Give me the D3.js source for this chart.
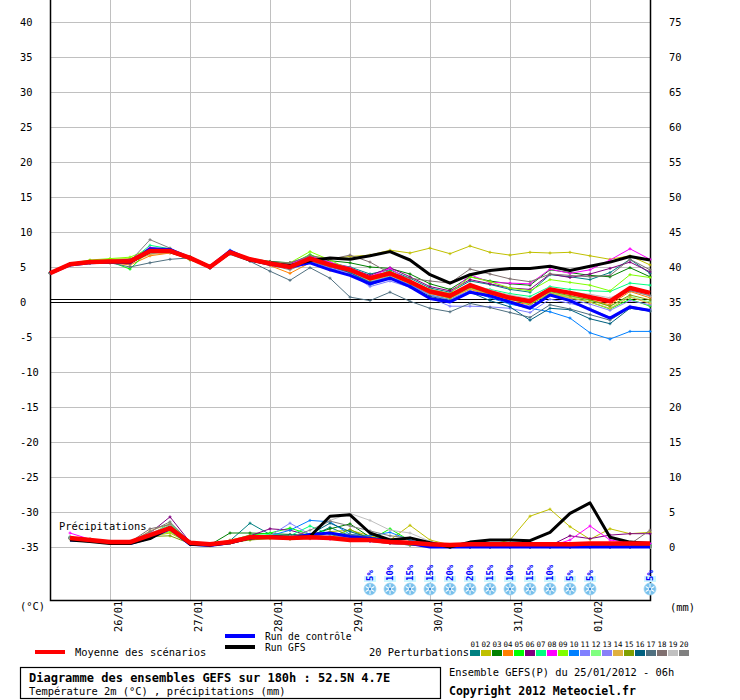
<!DOCTYPE html>
<html>
<head>
<meta charset="utf-8">
<script src="https://cdn.jsdelivr.net/npm/d3@7"></script>
<style>
body{margin:0;background:#fff;}
svg{display:block;}
text{font-family:"DejaVu Sans Mono",monospace;fill:#000;}
</style>
</head>
<body>
<svg id="chart" width="740" height="700"></svg>
<script>
// time steps (hours after 25/01/2012 06h)
var hoursT = [0,6,12,18,24,30,36,42,48,54,60,66,72,78,84,90,96,102,108,114,120,126,132,138,144,150,156,162,168,174,180];
var hoursP = [6,12,18,24,30,36,42,48,54,60,66,72,78,84,90,96,102,108,114,120,126,132,138,144,150,156,162,168,174,180];

var dayHours = [18,42,66,90,114,138,162];
var dayLabels = ["26/01","27/01","28/01","29/01","30/01","31/01","01/02"];
var leftTicks = [-35,-30,-25,-20,-15,-10,-5,0,5,10,15,20,25,30,35,40];
var rightTicks = [0,5,10,15,20,25,30,35,40,45,50,55,60,65,70,75];

var memberColors = ["#008080","#c0c000","#008000","#ff8000","#00ff00","#800080","#00ff80","#ff00ff","#80ff00","#0080ff",
                    "#8080ff","#80ff80","#8880f8","#e0b040","#80a000","#006080","#507080","#807070","#c0c0c0","#808080"];
var memberNames = ["01","02","03","04","05","06","07","08","09","10","11","12","13","14","15","16","17","18","19","20"];

// temperature 2m (°C)
var tempMean = [4.1,5.4,5.7,5.8,5.8,7.3,7.3,6.3,5.0,7.1,6.1,5.5,5.0,6.2,5.3,4.6,3.4,4.1,2.9,1.5,0.9,2.4,1.4,0.6,0.1,1.8,1.3,0.7,0.1,2.0,1.3];
var tempCtrl = [4.1,5.3,5.6,5.7,5.6,7.6,7.5,6.3,5.0,7.3,6.0,5.4,5.0,5.6,4.6,3.8,2.6,3.4,2.2,0.5,0.0,1.4,0.9,0.0,-0.9,1.0,0.2,-1.1,-2.3,-0.7,-1.2];
var tempGfs  = [4.1,5.4,5.7,5.8,5.7,7.2,7.2,6.3,5.0,7.1,6.0,5.5,5.2,5.9,6.3,6.1,6.6,7.2,6.0,3.9,2.7,3.9,4.5,4.8,4.8,5.1,4.5,5.1,5.7,6.5,6.0];
var tempMembers = [
  [4.1,5.3,5.8,6.0,5.9,7.0,7.2,6.4,5.1,7.0,6.0,5.6,5.2,6.4,5.6,5.0,4.0,4.6,3.4,2.0,1.4,3.0,2.5,1.8,1.4,3.9,3.6,3.2,4.2,6.1,4.1],
  [4.1,5.4,5.9,6.1,6.2,7.2,7.4,6.2,5.1,7.0,6.1,5.7,5.4,6.6,6.2,6.5,6.7,7.4,7.0,7.7,6.9,8.0,7.1,6.7,7.1,7.0,7.1,6.6,6.1,6.6,5.3],
  [4.1,5.4,5.7,5.9,6.0,7.0,7.2,6.5,5.2,7.1,6.2,5.8,5.6,6.3,5.9,5.6,5.0,4.8,4.0,2.6,1.8,3.6,3.0,2.6,2.4,4.6,4.2,3.8,3.6,4.9,3.6],
  [4.1,5.2,5.5,5.6,5.3,6.6,7.0,6.1,4.9,7.0,5.9,5.2,4.1,5.6,4.5,4.0,2.8,3.6,2.2,1.2,0.6,1.8,1.0,0.1,-0.4,1.3,0.8,0.3,-0.4,1.5,0.6],
  [4.1,5.5,5.8,5.8,4.7,7.5,7.6,6.3,5.1,7.2,6.2,5.6,5.3,6.8,5.6,4.9,3.6,4.4,3.1,1.6,0.8,2.0,1.1,0.4,-0.3,1.2,0.6,0.0,-1.0,0.4,-0.6],
  [4.1,5.3,5.6,5.9,6.1,7.4,7.3,6.2,4.9,7.1,6.1,5.7,5.6,6.5,5.5,4.8,3.8,4.9,3.6,2.2,1.6,3.2,2.6,2.0,1.8,4.0,3.5,4.0,4.8,5.7,4.3],
  [4.1,5.4,5.7,5.7,5.8,8.1,7.6,6.4,5.0,7.0,6.0,5.4,5.2,6.1,5.0,4.3,2.6,3.8,2.4,1.4,0.6,2.2,1.8,1.2,0.8,2.2,1.8,1.6,1.5,2.7,2.4],
  [4.1,5.5,5.7,5.8,6.0,7.8,7.4,6.3,5.0,7.1,6.1,5.6,5.4,6.6,5.7,4.9,3.6,4.8,3.0,1.8,1.2,3.9,2.8,2.7,2.6,4.7,4.1,4.6,6.0,7.6,6.1],
  [4.1,5.5,6.0,6.2,6.4,7.6,7.3,6.2,5.0,7.0,6.1,5.6,5.6,7.2,6.0,4.6,2.8,4.0,3.0,1.8,1.2,3.6,2.9,2.0,1.6,3.2,2.8,2.4,1.6,3.9,3.5],
  [4.1,5.3,5.6,5.7,5.5,7.0,7.1,6.2,5.1,7.4,6.1,5.4,4.9,5.8,5.1,4.3,2.4,3.5,2.5,1.0,0.4,1.6,0.6,-0.3,-0.9,-1.4,-2.3,-4.4,-5.3,-4.2,-4.2],
  [4.1,5.4,5.6,5.7,5.6,7.1,7.2,6.3,5.0,7.2,6.0,5.5,5.0,6.0,5.0,4.1,2.2,3.0,2.1,0.6,-0.6,-0.6,-0.7,-0.9,-1.5,0.4,-0.2,-0.9,-2.2,-0.6,-1.1],
  [4.1,5.4,5.8,5.9,5.9,7.4,7.4,6.2,5.0,7.0,6.1,5.5,5.2,6.4,5.3,4.4,3.0,3.9,2.8,1.2,0.5,2.0,1.2,0.3,-0.2,1.4,0.8,0.2,-0.6,0.8,0.0],
  [4.1,5.3,5.6,5.8,5.7,7.2,7.1,6.3,5.1,7.1,6.0,5.5,4.8,5.9,4.8,4.2,2.9,3.6,2.4,1.0,0.3,1.6,0.8,0.0,-0.6,1.0,0.4,-0.3,-1.2,0.2,-0.4],
  [4.1,5.3,5.5,5.6,5.6,6.8,7.0,6.4,5.0,7.0,6.0,5.6,5.0,6.0,5.2,4.4,3.1,3.8,2.6,1.2,0.5,1.9,1.0,0.4,-0.2,1.2,0.6,0.0,-0.9,0.7,-0.2],
  [4.1,5.4,5.8,5.8,5.8,7.0,7.2,6.0,5.0,7.1,6.1,5.5,5.1,6.3,5.4,4.5,3.2,4.0,2.7,1.3,0.6,2.1,1.3,0.5,0.0,1.5,0.9,0.3,-0.6,1.0,0.3],
  [4.1,5.4,5.7,5.8,5.7,7.2,7.3,6.3,4.9,7.0,6.0,5.4,4.9,6.0,5.1,4.2,2.8,3.4,2.3,0.8,0.2,1.4,0.2,-0.7,-2.6,-0.9,-1.1,-2.4,-3.1,-0.9,-1.3],
  [4.1,5.3,5.6,5.6,5.0,5.6,6.1,6.3,4.8,6.8,5.8,4.4,3.1,4.9,3.4,0.7,0.2,1.4,0.1,-0.9,-1.4,-0.2,-0.8,-1.5,-2.2,-0.4,-1.0,-1.8,-2.6,-0.8,-1.3],
  [4.1,5.4,5.7,5.8,5.9,7.2,7.3,6.3,5.0,7.1,6.1,5.6,5.6,6.6,6.1,6.7,5.7,4.1,3.4,3.0,2.7,4.7,4.0,3.3,2.9,4.0,3.8,3.6,3.8,6.1,4.6],
  [4.1,5.4,5.7,5.8,5.8,7.0,7.2,6.3,5.0,7.1,6.1,5.5,5.1,6.2,5.4,4.6,3.4,4.1,3.0,1.6,1.0,2.6,1.7,1.0,0.5,2.0,1.4,1.1,0.6,1.8,0.8],
  [4.1,5.4,5.7,5.8,5.8,8.9,7.7,6.2,4.8,7.0,6.0,5.3,4.6,5.8,5.0,4.4,3.3,3.9,3.0,1.5,0.8,2.4,1.5,0.8,0.3,1.8,1.3,0.8,0.2,1.6,0.9]
];

// precipitation (mm / 6h)
var precMean = [1.3,1.0,0.7,0.7,1.7,2.7,0.6,0.4,0.7,1.4,1.4,1.3,1.4,1.3,1.0,1.0,0.7,0.6,0.4,0.3,0.4,0.4,0.4,0.4,0.4,0.4,0.5,0.5,0.5,0.5];
var precCtrl = [1.0,0.9,0.6,0.5,1.3,2.6,0.4,0.2,0.6,1.3,1.5,1.3,1.8,2.0,1.5,1.2,0.9,0.5,0,0,0,0,0,0,0,0,0,0,0,0];
var precGfs  = [1.0,0.8,0.5,0.5,1.2,2.8,0.4,0.3,0.6,1.3,1.5,1.3,1.5,4.4,4.6,2.0,1.0,1.3,0.6,0,0.7,1.0,1.0,0.9,2.1,4.8,6.3,1.4,0.7,0.5];
var precMembers = [
  [1.3,1.0,0.6,0.6,1.8,3.1,0.8,0.3,0.9,3.4,1.8,1.6,1.5,2.8,1.6,0.8,0.5,0.3,0.1,0,0,0,0,0,0,0,0.1,0.2,0.3,0.4],
  [1.2,0.9,0.7,0.6,1.5,2.0,0.5,0.2,0.6,1.1,1.3,1.2,1.4,2.2,2.4,1.6,1.0,3.1,1.0,0.3,0.3,0.3,1.0,4.4,5.4,2.9,1.1,2.6,1.9,2.1],
  [1.4,1.1,0.7,0.7,1.9,3.0,0.6,0.3,2.0,2.0,1.9,1.8,1.7,2.6,3.3,1.4,1.0,0.6,0.3,0.1,0,0,0,0.1,0.3,0.3,0.2,0.1,0.2,0.2],
  [1.2,0.9,0.6,0.7,1.6,2.4,0.5,0.3,0.8,1.3,1.5,1.6,1.4,1.2,0.9,0.8,0.5,0.4,0.1,0,0,0,0,0,0,0,0,0,0,0],
  [1.3,1.0,0.7,0.7,1.8,2.9,0.6,0.4,0.9,1.7,2.0,2.7,1.8,1.4,1.2,1.0,2.6,0.9,0.3,0.1,0,0,0,0.2,0.4,0.3,0.1,0,0,0],
  [1.3,1.0,0.7,0.8,2.0,4.3,0.7,0.4,0.8,1.6,2.6,2.4,1.6,1.4,1.2,0.9,0.6,0.4,0.2,0,0,0,0,0,0.2,1.6,1.2,1.7,1.9,1.9],
  [1.4,1.1,0.8,0.7,1.7,3.4,0.6,0.3,0.7,1.5,1.8,1.6,3.0,1.8,1.1,0.9,0.5,0.3,0.1,0,0,0,0,0,0,0,0,0,0,0],
  [2.0,1.1,0.7,0.6,1.6,2.6,0.5,0.3,0.7,1.2,1.4,1.3,1.2,1.1,1.0,0.8,0.5,0.3,0.1,0,0,0,0,0,0.1,1.0,3.0,1.0,0.6,0.5],
  [1.2,0.9,0.6,0.6,1.4,2.2,0.4,0.2,0.6,1.2,1.5,1.4,1.6,2.0,1.6,1.2,0.7,0.4,0.1,0,0,0,0,0,0.1,0.2,0.1,0,0,0],
  [1.3,1.0,0.7,0.7,1.7,3.0,0.6,0.3,0.8,1.4,1.6,2.4,3.8,3.6,1.8,1.6,2.1,1.0,0.4,0.1,0,0,0,0,0,0,0,0,0,0],
  [1.2,0.9,0.6,0.6,1.5,2.5,0.5,0.3,0.7,1.3,1.6,3.4,1.8,1.3,1.0,0.8,0.6,0.3,0.1,0,0,0,0,0,0,0,0,0,0,0],
  [1.3,1.0,0.7,0.7,1.8,3.1,0.6,0.3,0.8,1.4,1.7,1.6,1.5,1.3,2.4,1.2,0.8,0.5,0.2,0,0,0,0,0,0,0,0,0,0,0],
  [1.2,0.9,0.7,0.7,1.6,2.7,0.5,0.3,0.7,1.2,1.4,1.5,1.4,1.6,1.4,1.3,0.9,0.6,0.2,0,0,0,0,0,0,0,0,0,0,0],
  [1.3,1.0,0.7,0.6,2.3,3.3,0.6,0.4,1.0,1.6,1.5,1.4,1.3,1.5,1.7,1.4,0.7,0.4,0.2,0,0,0,0,0,0,0,0,0,0,0],
  [1.2,1.0,0.6,0.6,1.5,1.6,0.5,0.2,0.6,1.0,1.2,1.1,1.2,1.4,2.5,1.2,0.6,0.3,0.1,0,0,0,0,0,0,0,0,0,0,0],
  [1.3,1.0,0.7,0.7,1.7,2.9,0.6,0.3,0.8,1.3,1.6,1.7,1.8,3.4,2.2,1.3,0.8,0.5,0.2,0,0,0,0,0,0,0,0,0,0,0],
  [1.3,1.0,0.7,0.7,1.6,2.8,0.6,0.3,0.8,1.3,1.5,1.5,1.6,2.0,1.8,1.4,0.9,0.6,0.3,0.1,0,0,0,0,0,0,0,0,0,0],
  [1.3,1.0,0.7,0.7,2.6,3.2,0.6,0.3,0.7,1.2,1.4,1.3,1.4,1.3,1.2,1.0,0.7,0.6,0.3,0.1,0,0,0,0,0,0,0,0,0.4,2.4],
  [1.3,1.0,0.7,0.7,2.0,3.0,0.6,0.3,0.8,1.2,1.4,1.5,1.8,3.8,4.8,3.8,2.4,2.0,0.8,0.2,0,0,0,0,0,0,0,0,0,0],
  [1.4,1.1,0.8,0.7,2.2,3.6,0.7,0.3,0.9,1.4,1.5,1.4,2.4,3.7,3.0,2.3,1.6,1.3,0.6,0.2,0,0,0,0,0,0,0,0,0,0]
];

// snow probability
var snowHours = [96,102,108,114,120,126,132,138,144,150,156,162,180];
var snowPct = [5,10,15,15,20,20,15,10,15,10,5,5,5];

var svg = d3.select("#chart");
var x = d3.scaleLinear().domain([0,180]).range([50,650]);
var yT = d3.scaleLinear().domain([-35,40]).range([547,22]);
var yP = d3.scaleLinear().domain([0,75]).range([547,22]);
var gridCol = "#c0c0c0";
var fs = 10.4;

// grid
svg.append("g").selectAll("line").data(leftTicks).enter().append("line")
  .attr("x1",50).attr("x2",650)
  .attr("y1",function(d){return yT(d)+0.5;}).attr("y2",function(d){return yT(d)+0.5;})
  .attr("stroke",gridCol).attr("stroke-width",1);
svg.append("g").selectAll("line").data(dayHours).enter().append("line")
  .attr("x1",function(d){return x(d)+0.5;}).attr("x2",function(d){return x(d)+0.5;})
  .attr("y1",0).attr("y2",600)
  .attr("stroke",gridCol).attr("stroke-width",1);

// 0°C double line
[yT(0)-2.5, yT(0)+0.5].forEach(function(yy){
  svg.append("line").attr("x1",50).attr("x2",650).attr("y1",yy).attr("y2",yy)
    .attr("stroke","#000").attr("stroke-width",1.2);
});

// frame
svg.append("path").attr("d","M50.5,0V600.5H650.5V0").attr("fill","none").attr("stroke","#000").attr("stroke-width",1.5);

// axis labels
svg.append("g").selectAll("text").data(leftTicks).enter().append("text")
  .attr("x",20).attr("y",function(d){return yT(d)+4;})
  .attr("font-size",fs).text(function(d){return d;});
svg.append("g").selectAll("text").data(rightTicks).enter().append("text")
  .attr("x",669).attr("y",function(d){return yP(d)+4;})
  .attr("font-size",fs).text(function(d){return d;});
svg.append("g").selectAll("text").data(dayLabels).enter().append("text")
  .attr("transform",function(d,i){return "translate("+(x(dayHours[i])+12)+",632) rotate(-90)";})
  .attr("font-size",fs).text(function(d){return d;});
svg.append("text").attr("x",20).attr("y",610).attr("font-size",fs).text("(°C)");
svg.append("text").attr("x",670).attr("y",611).attr("font-size",fs).text("(mm)");
svg.append("text").attr("x",59).attr("y",530).attr("font-size",fs).text("Précipitations");

// lines
var lineT = d3.line().x(function(d,i){return x(hoursT[i]);}).y(function(d){return yT(d);});
var lineP = d3.line().x(function(d,i){return x(hoursP[i]);}).y(function(d){return yP(d);});

function drawMember(vals, hrs, yS, line, col){
  var g = svg.append("g");
  g.append("path").attr("d",line(vals)).attr("fill","none").attr("stroke",col).attr("stroke-width",1);
  g.selectAll("path.mk").data(vals).enter().append("path").attr("class","mk")
    .attr("d",function(d,i){var px=x(hrs[i]),py=yS(d);return "M"+(px-1.5)+","+py+"H"+(px+1.5)+"M"+px+","+(py-1.5)+"V"+(py+1.5);})
    .attr("stroke",col).attr("stroke-width",1);
}
tempMembers.forEach(function(s,k){ drawMember(s,hoursT,yT,lineT,memberColors[k]); });
precMembers.forEach(function(s,k){ drawMember(s,hoursP,yP,lineP,memberColors[k]); });

function drawMain(vals,line,col,w){
  svg.append("path").attr("d",line(vals)).attr("fill","none").attr("stroke",col)
    .attr("stroke-width",w).attr("stroke-linejoin","round");
}
drawMain(tempCtrl,lineT,"#0000ff",3);
drawMain(precCtrl,lineP,"#0000ff",3);
drawMain(tempGfs,lineT,"#000000",3);
drawMain(precGfs,lineP,"#000000",3);
drawMain(tempMean,lineT,"#ff0000",4.5);
drawMain(precMean,lineP,"#ff0000",4.5);

// snow probability icons
var snow = svg.append("g").selectAll("g").data(snowPct).enter().append("g")
  .attr("transform",function(d,i){return "translate("+x(snowHours[i])+",0)";});
snow.append("rect").attr("x",-6).attr("y",576).attr("width",12).attr("height",6).attr("fill","#ccf6ff");
snow.append("text").attr("transform","translate(3,581) rotate(-90)")
  .attr("font-size",9).attr("font-weight","bold").style("fill","#0000ff").text(function(d){return d+"%";});
snow.append("circle").attr("cx",0).attr("cy",589).attr("r",6).attr("fill","#78c0ec").attr("stroke","#9ad4f4").attr("stroke-width",0.8);
[0,60,120].forEach(function(a){
  snow.append("line").attr("x1",0).attr("y1",584).attr("x2",0).attr("y2",594)
    .attr("transform","rotate("+a+",0,589)").attr("stroke","#ffffff").attr("stroke-width",1);
});
snow.append("circle").attr("cx",0).attr("cy",589).attr("r",1.2).attr("fill","#3a8ad8");

// legend
var leg = svg.append("g");
leg.append("line").attr("x1",35).attr("x2",65).attr("y1",652).attr("y2",652).attr("stroke","#ff0000").attr("stroke-width",4);
leg.append("text").attr("x",75).attr("y",656).attr("font-size",fs).text("Moyenne des scénarios");
leg.append("line").attr("x1",225).attr("x2",255).attr("y1",636).attr("y2",636).attr("stroke","#0000ff").attr("stroke-width",4);
leg.append("text").attr("x",265).attr("y",640).attr("font-size",9.6).text("Run de contrôle");
leg.append("line").attr("x1",225).attr("x2",255).attr("y1",647).attr("y2",647).attr("stroke","#000000").attr("stroke-width",4);
leg.append("text").attr("x",265).attr("y",651).attr("font-size",9.6).text("Run GFS");
leg.append("text").attr("x",369).attr("y",656).attr("font-size",fs).text("20 Perturbations");
leg.selectAll("rect.sw").data(memberColors).enter().append("rect").attr("class","sw")
  .attr("x",function(d,i){return 470+i*11;}).attr("y",650).attr("width",10).attr("height",6).attr("fill",function(d){return d;});
leg.selectAll("text.sn").data(memberNames).enter().append("text").attr("class","sn")
  .attr("x",function(d,i){return 475+i*11;}).attr("y",647).attr("text-anchor","middle")
  .attr("font-size",7.5).text(function(d){return d;});

// title box
svg.append("rect").attr("x",20.5).attr("y",667.5).attr("width",420).attr("height",31).attr("fill","none").attr("stroke","#000").attr("stroke-width",1.2);
svg.append("text").attr("x",29).attr("y",682).attr("font-size",12).attr("font-weight","bold")
  .text("Diagramme des ensembles GEFS sur 180h : 52.5N 4.7E");
svg.append("text").attr("x",29).attr("y",695).attr("font-size",fs).text("Température 2m (°C) , précipitations (mm)");
svg.append("text").attr("x",449).attr("y",676).attr("font-size",fs).text("Ensemble GEFS(P) du 25/01/2012 - 06h");
svg.append("text").attr("x",449).attr("y",695).attr("font-size",11.5).attr("font-weight","bold").text("Copyright 2012 Meteociel.fr");
</script>
</body>
</html>
